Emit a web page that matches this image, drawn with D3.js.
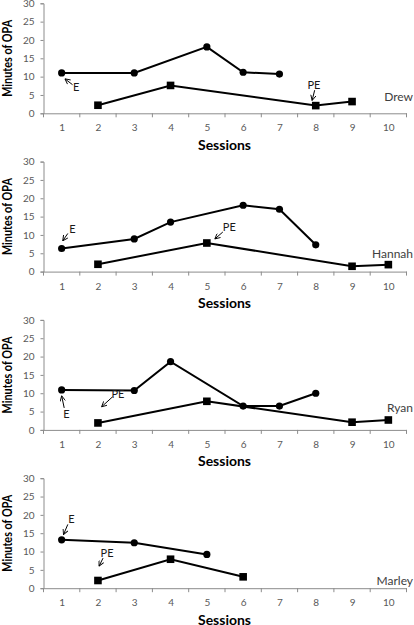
<!DOCTYPE html>
<html><head><meta charset="utf-8">
<script src="https://cdn.jsdelivr.net/npm/d3@7"></script>
<style>body{margin:0;background:#fff}svg{display:block}</style>
</head><body>
<script>
const sessions = [1,2,3,4,5,6,7,8,9,10];
const yTicks = [0,5,10,15,20,25,30];
const names = ["Drew","Hannah","Ryan","Marley"];
// E series (circles), null = no session
const drewE   = [11.0,null,11.0,null,18.1,11.2,10.7,null,null,null];
const hannahE = [6.3,null,8.9,13.5,null,18.1,17.0,7.3,null,null];
const ryanE   = [10.9,null,10.75,18.6,null,6.5,6.5,10.0,null,null];
const marleyE = [13.2,null,12.4,null,9.2,null,null,null,null,null];
// PE series (squares)
const drewPE   = [null,2.2,null,7.6,null,null,null,2.1,3.2,null];
const hannahPE = [null,2.0,null,null,7.8,null,null,null,1.45,1.9];
const ryanPE   = [null,1.9,null,null,7.8,null,null,null,2.1,2.7];
const marleyPE = [null,2.1,null,7.9,null,3.1,null,null,null,null];
// annotations: label, text pos, arrow tail, arrow tip (session, minutes)
const drewNotes   = [["E",1.4,7.0,1.3,7.8,1.09,9.4],["PE",7.95,7.6,7.97,6.3,7.9,3.5]];
const hannahNotes = [["E",1.3,11.6,1.17,10.4,1.03,8.4],["PE",5.62,12.2,5.44,10.8,5.22,8.9]];
const ryanNotes   = [["E",1.13,4.4,1.07,6.0,1.0,9.3],["PE",2.55,9.8,2.4,9.0,2.1,6.3]];
const marleyNotes = [["E",1.27,18.9,1.17,17.4,1.05,14.6],["PE",2.25,9.6,2.14,8.2,2.03,6.0]];
const labelPos = [[10.68,4.4],[10.68,4.8],[10.68,5.9],[10.68,2.0]];

const E = [drewE,hannahE,ryanE,marleyE];
const PE = [drewPE,hannahPE,ryanPE,marleyPE];
const NOTES = [drewNotes,hannahNotes,ryanNotes,marleyNotes];

const W = 414, H = 625;
const svg = d3.select("body").append("svg").attr("width",W).attr("height",H)
  .style("font-family","Lato, 'Liberation Sans', sans-serif");

svg.append("defs").append("marker").attr("id","ah")
  .attr("viewBox","0 0 8 8").attr("refX",7.5).attr("refY",4)
  .attr("markerWidth",6).attr("markerHeight",6).attr("markerUnits","userSpaceOnUse")
  .attr("orient","auto")
  .append("path").attr("d","M0.5,0.5 L7.5,4 L0.5,7.5").attr("fill","none")
  .attr("stroke","#000").attr("stroke-width",1.2);

const x = d3.scaleLinear().domain([0.5,10.5]).range([43.5,406.5]);

names.forEach((name,i)=>{
  const top = 3.3 + i*158.3, bottom = top + 110;
  const y = d3.scaleLinear().domain([0,30]).range([bottom,top]);
  const g = svg.append("g");

  // y axis
  const ya = g.append("g").attr("transform",`translate(${x(0.5)},0)`)
    .call(d3.axisLeft(y).tickValues(yTicks).tickSize(3).tickPadding(6));
  ya.select(".domain").attr("stroke","#8c8c8c");
  ya.selectAll(".tick line").attr("stroke","#8c8c8c");
  ya.selectAll("text").attr("fill","#595959").style("font-size","10px").style("font-family","Lato, sans-serif");

  // x axis
  const xa = g.append("g").attr("transform",`translate(0,${bottom})`)
    .call(d3.axisBottom(x).tickValues(sessions).tickSize(0).tickPadding(11));
  xa.select(".domain").attr("stroke","#8c8c8c");
  xa.selectAll("text").attr("fill","#595959").style("font-size","10px").style("font-family","Lato, sans-serif");
  xa.selectAll(".bt").data(d3.range(0.5,10.6,1)).enter().append("line")
    .attr("x1",d=>x(d)).attr("x2",d=>x(d)).attr("y1",0).attr("y2",4).attr("stroke","#8c8c8c");

  // titles
  g.append("text").attr("x",(x(0.5)+x(10.5))/2 - 0.5).attr("y",bottom+36.3)
    .attr("text-anchor","middle").attr("font-weight","bold").attr("font-size",13)
    .attr("textLength",53).attr("lengthAdjust","spacingAndGlyphs").attr("fill","#000")
    .text("Sessions");
  g.append("text").attr("transform",`translate(12,${(top+bottom)/2}) rotate(-90)`)
    .attr("text-anchor","middle").attr("font-weight","bold").attr("font-size",13)
    .attr("textLength",77).attr("lengthAdjust","spacingAndGlyphs").attr("fill","#000")
    .text("Minutes of OPA");

  // lines
  const line = d3.line().x(d=>x(d[0])).y(d=>y(d[1]));
  const ePts = sessions.map((s,k)=>[s,E[i][k]]).filter(d=>d[1]!=null);
  const pPts = sessions.map((s,k)=>[s,PE[i][k]]).filter(d=>d[1]!=null);
  g.append("path").attr("d",line(ePts)).attr("fill","none").attr("stroke","#000").attr("stroke-width",2);
  g.append("path").attr("d",line(pPts)).attr("fill","none").attr("stroke","#000").attr("stroke-width",2);
  g.selectAll(".c").data(ePts).enter().append("circle")
    .attr("cx",d=>x(d[0])).attr("cy",d=>y(d[1])).attr("r",3.6).attr("fill","#000");
  g.selectAll(".s").data(pPts).enter().append("rect")
    .attr("x",d=>x(d[0])-3.8).attr("y",d=>y(d[1])-3.8).attr("width",7.6).attr("height",7.6).attr("fill","#000");

  // annotations
  NOTES[i].forEach(n=>{
    g.append("line").attr("x1",x(n[3])).attr("y1",y(n[4])).attr("x2",x(n[5])).attr("y2",y(n[6]))
      .attr("stroke","#000").attr("stroke-width",1).attr("marker-end","url(#ah)");
    g.append("text").attr("x",x(n[1])).attr("y",y(n[2])).attr("dy","0.35em")
      .attr("text-anchor","middle").attr("font-size",11).attr("fill","#1a1a1a").text(n[0]);
  });

  // name label
  g.append("text").attr("x",x(labelPos[i][0])).attr("y",y(labelPos[i][1])).attr("dy","0.35em")
    .attr("text-anchor","end").attr("font-size",12).attr("fill","#404040").text(name);
});
</script>
</body></html>
